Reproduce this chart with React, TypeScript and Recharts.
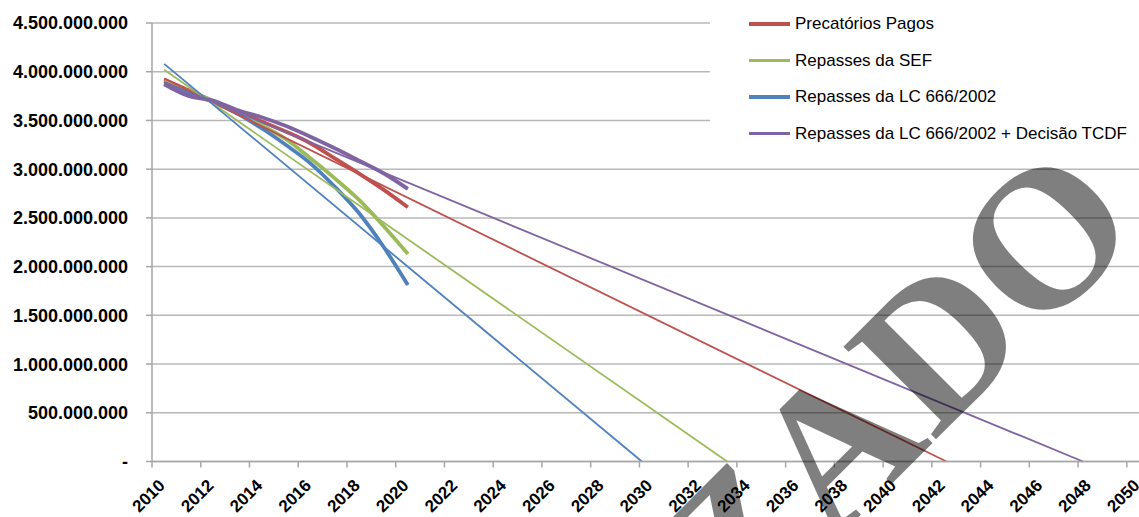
import React from 'react';
import { LineChart, Line, XAxis, YAxis, CartesianGrid, Legend } from 'recharts';

// Observed series (mid-year points)
const years = [2010.5, 2011.5, 2012.5, 2013.5, 2014.5, 2015.5, 2016.5, 2017.5, 2018.5, 2019.5, 2020.5];
const precatoriosPagos = [3920e6, 3810e6, 3700e6, 3590e6, 3490e6, 3385e6, 3266e6, 3110e6, 2955e6, 2790e6, 2609e6];
const repassesSEF = [3900e6, 3800e6, 3700e6, 3580e6, 3450e6, 3307e6, 3112e6, 2906e6, 2684e6, 2417e6, 2130e6];
const repassesLC = [3880e6, 3780e6, 3690e6, 3570e6, 3420e6, 3248e6, 3060e6, 2820e6, 2547e6, 2204e6, 1811e6];
const repassesTCDF = [3871e6, 3751e6, 3703e6, 3607e6, 3533e6, 3443e6, 3333e6, 3214e6, 3087e6, 2958e6, 2797e6];

// Linear trend lines (start and zero crossing)
const trendPrecatoriosYears = [2010.5, 2042.6];
const trendPrecatoriosValues = [3930e6, 0];
const trendSEFYears = [2010.5, 2033.6];
const trendSEFValues = [4020e6, 0];
const trendLCYears = [2010.5, 2030.1];
const trendLCValues = [4080e6, 0];
const trendTCDFYears = [2010.5, 2048.2];
const trendTCDFValues = [3895e6, 0];

const xTicks = [2010, 2012, 2014, 2016, 2018, 2020, 2022, 2024, 2026, 2028, 2030, 2032, 2034, 2036, 2038, 2040, 2042, 2044, 2046, 2048, 2050];
const yTicks = [0, 500e6, 1000e6, 1500e6, 2000e6, 2500e6, 3000e6, 3500e6, 4000e6, 4500e6];

const seriesNames = ['Precatórios Pagos', 'Repasses da SEF', 'Repasses da LC 666/2002', 'Repasses da LC 666/2002 + Decisão TCDF'];
const seriesColors = ['#C0504D', '#9BBB59', '#4F81BD', '#8064A2'];
const watermarkText = 'AUTORIZADO';

const table = years.map((year, i) => ({
  year,
  p: precatoriosPagos[i],
  s: repassesSEF[i],
  l: repassesLC[i],
  t: repassesTCDF[i],
}));

const mkTrend = (ys: number[], vs: number[]) => ys.map((year, i) => ({ year, v: vs[i] }));
const trends = [
  mkTrend(trendPrecatoriosYears, trendPrecatoriosValues),
  mkTrend(trendSEFYears, trendSEFValues),
  mkTrend(trendLCYears, trendLCValues),
  mkTrend(trendTCDFYears, trendTCDFValues),
];

const fmt = (v: number) => (v === 0 ? '-' : String(Math.round(v)).replace(/\B(?=(\d{3})+(?!\d))/g, '.'));

const sans = "'Liberation Sans', Arial, sans-serif";
const serif = "'Liberation Serif', 'DejaVu Serif', serif";

const YTick = (props: any) => {
  const { x, y, payload } = props;
  return (
    <text x={x - 16} y={y} dy="0.36em" textAnchor="end" style={{ fontFamily: sans, fontWeight: 700, fontSize: 18 }} fill="#000">
      {fmt(payload.value)}
    </text>
  );
};

const XTick = (props: any) => {
  const { x, y, payload } = props;
  const ax = x + 14;
  const ay = y + 17;
  return (
    <text x={ax} y={ay} transform={`rotate(-45 ${ax} ${ay})`} textAnchor="end" style={{ fontFamily: sans, fontWeight: 700, fontSize: 17 }} fill="#000">
      {payload.value}
    </text>
  );
};

const LegendContent = () => (
  <div style={{ position: 'relative', width: 429, height: 152, background: '#fff' }}>
    {seriesNames.map((name, i) => (
      <div key={name} style={{ position: 'absolute', left: 39, top: 24 + i * 36.5 - 12, height: 24, display: 'flex', alignItems: 'center' }}>
        <div style={{ width: 41, height: 3.5, background: seriesColors[i], marginRight: 5 }} />
        <span style={{ fontFamily: sans, fontSize: 17, color: '#000', whiteSpace: 'nowrap' }}>{name}</span>
      </div>
    ))}
  </div>
);

export default function App() {
  const keys = ['p', 's', 'l', 't'];
  return (
    <div style={{ position: 'absolute', left: 0, top: 0, width: 1139, height: 517, background: '#fff', overflow: 'hidden' }}>
      <LineChart width={1139} height={517} data={table} margin={{ top: 23, right: 0, bottom: 0, left: 0 }}>
        <CartesianGrid horizontal vertical={false} stroke="#b8b8b8" strokeWidth={1.5} />
        <XAxis
          type="number"
          dataKey="year"
          domain={[2010, 2050.5]}
          ticks={xTicks}
          allowDataOverflow
          height={55.5}
          tickSize={6}
          stroke="#a6a6a6"
          strokeWidth={1.5}
          tick={<XTick />}
          interval={0}
        />
        <YAxis
          type="number"
          domain={[0, 4500e6]}
          ticks={yTicks}
          width={152}
          tickSize={6}
          stroke="#a6a6a6"
          strokeWidth={1.5}
          tick={<YTick />}
          interval={0}
        />
        <Legend
          layout="horizontal"
          verticalAlign="middle"
          align="center"
          content={<LegendContent />}
          wrapperStyle={{ left: 710, top: 0, width: 429, height: 152 }}
        />
        {keys.map((k, i) => (
          <Line key={k} type="monotone" dataKey={k} stroke={seriesColors[i]} strokeWidth={3.8} dot={false} isAnimationActive={false} legendType="none" />
        ))}
        {trends.map((d, i) => (
          <Line key={'tr' + i} data={d} type="linear" dataKey="v" stroke={seriesColors[i]} strokeWidth={1.8} dot={false} isAnimationActive={false} legendType="none" />
        ))}
      </LineChart>
      <svg width={1139} height={517} style={{ position: 'absolute', left: 0, top: 0, pointerEvents: 'none' }}>
        <text
          x={1145.7}
          y={229.7}
          transform="rotate(-45 1145.7 229.7)"
          textAnchor="end"
          style={{ fontFamily: serif, fontWeight: 700, fontSize: 200 }}
          fill="#000"
          fillOpacity={0.5}
        >
          {watermarkText}
        </text>
      </svg>
    </div>
  );
}
